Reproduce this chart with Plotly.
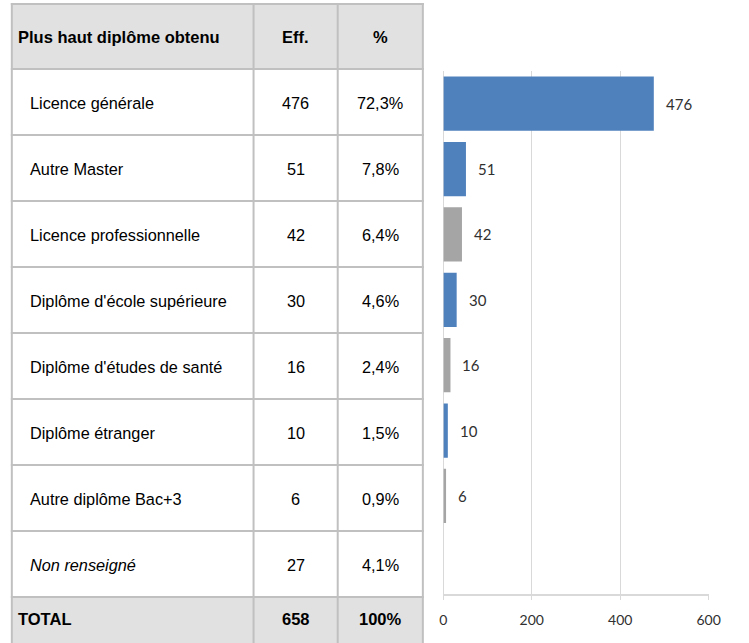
import plotly.graph_objects as go

# ---- data ----
categories = ["Licence générale", "Autre Master", "Licence professionnelle",
              "Diplôme d'école supérieure", "Diplôme d'études de santé",
              "Diplôme étranger", "Autre diplôme Bac+3", "Non renseigné"]
effectifs = [476, 51, 42, 30, 16, 10, 6, 27]
percents = ["72,3%", "7,8%", "6,4%", "4,6%", "2,4%", "1,5%", "0,9%", "4,1%"]
bar_values = [476, 51, 42, 30, 16, 10, 6, None]
header = ["Plus haut diplôme obtenu", "Eff.", "%"]
total_row = ["TOTAL", "658", "100%"]
x_ticks = [0, 200, 400, 600]

# ---- style ----
BLUE = "#4F81BD"
GRAY = "#A5A5A5"
bar_colors = [BLUE, BLUE, GRAY, BLUE, GRAY, BLUE, GRAY, GRAY]
W, H = 749, 643
BORDER = "#C0C0C0"
HEAD_FILL = "#E1E1E1"
TFONT = "Liberation Sans, Arial, sans-serif"
CFONT = "Lato, Calibri, sans-serif"


def px(x):
    return x / W


def py(y):
    return 1 - y / H


fig = go.Figure()
fig.add_trace(go.Bar(
    y=categories, x=bar_values, orientation="h",
    marker=dict(color=bar_colors, line=dict(width=0)),
    width=0.83, hoverinfo="skip",
))

shapes = []
annotations = []

# bar value labels
for cat, v in zip(categories, bar_values):
    if v is None:
        continue
    annotations.append(dict(
        x=v, y=cat, xref="x", yref="y", text=str(v), showarrow=False,
        xanchor="left", yanchor="middle", xshift=10,
        font=dict(family=CFONT, size=15, color="#303030")))

# table geometry (pixels)
x_left, x_c1, x_c2, x_right = 8, 255, 341, 428
y_top, y_head = 4, 69
row_h = 66
n = len(categories)
y_total = y_head + n * row_h
y_bottom = 660

# fills
for (a, b) in [(y_top, y_head), (y_total, y_bottom)]:
    shapes.append(dict(type="rect", xref="paper", yref="paper",
                       x0=px(x_left), x1=px(x_right), y0=py(b), y1=py(a),
                       fillcolor=HEAD_FILL, line=dict(width=0), layer="below"))
# horizontal lines
ys = [y_top, y_head] + [y_head + (i + 1) * row_h for i in range(n)]
for yy in ys:
    shapes.append(dict(type="line", xref="paper", yref="paper",
                       x0=px(x_left - 1), x1=px(x_right + 1), y0=py(yy), y1=py(yy),
                       line=dict(color=BORDER, width=2)))
for xx in [x_left, x_c1, x_c2, x_right]:
    shapes.append(dict(type="line", xref="paper", yref="paper",
                       x0=px(xx), x1=px(xx), y0=py(y_top - 1), y1=py(y_bottom),
                       line=dict(color=BORDER, width=2)))

col_centers = [(x_c1 + x_c2) / 2, (x_c2 + x_right) / 2]


def add_row(yc, texts, bold=False, italic=False, label_x=25):
    size = 16.5 if bold else 16.3

    def fmt(t):
        return "<b>" + t + "</b>" if bold else t
    label = fmt(texts[0])
    if italic:
        label = "<i>" + label + "</i>"
    annotations.append(dict(x=px(label_x), y=py(yc), xref="paper", yref="paper",
                            text=label, showarrow=False, xanchor="left",
                            yanchor="middle",
                            font=dict(family=TFONT, size=size, color="#000000")))
    for cx, t in zip(col_centers, texts[1:]):
        annotations.append(dict(x=px(cx), y=py(yc), xref="paper", yref="paper",
                                text=fmt(t), showarrow=False, xanchor="center",
                                yanchor="middle",
                                font=dict(family=TFONT, size=size, color="#000000")))


add_row((y_top + y_head) / 2 + 1, header, bold=True, label_x=12)
for i, cat in enumerate(categories):
    yc = y_head + i * row_h + row_h / 2 + 1
    add_row(yc, [cat, str(effectifs[i]), percents[i]],
            italic=(cat == "Non renseigné"))
add_row(y_total + 22, total_row, bold=True, label_x=12)

fig.update_layout(
    width=W, height=H,
    margin=dict(l=0, r=0, t=0, b=0),
    paper_bgcolor="white", plot_bgcolor="white",
    showlegend=False,
    bargap=0.17,
    shapes=shapes,
    annotations=annotations,
    xaxis=dict(domain=[px(449), px(720)], range=[0, 600], tickvals=x_ticks,
               showgrid=True, gridcolor="#D9D9D9", gridwidth=1,
               zeroline=True, zerolinecolor="#D9D9D9", zerolinewidth=1,
               showline=True, linecolor="#D9D9D9", linewidth=2,
               ticks="outside", ticklen=4, tickcolor="#D9D9D9",
               ticklabelstandoff=8,
               tickfont=dict(family=CFONT, size=14, color="#303030"),
               fixedrange=True),
    yaxis=dict(domain=[py(594), py(71)], type="category",
               categoryorder="array", categoryarray=categories,
               range=[len(categories) - 0.5, -0.5],
               showticklabels=False, showgrid=False, zeroline=False,
               showline=False, ticks="", fixedrange=True),
)

fig.write_html("out.html", config={"displayModeBar": False},
               post_script="document.body.style.margin='0';"
                           "document.body.style.overflow='hidden';")
